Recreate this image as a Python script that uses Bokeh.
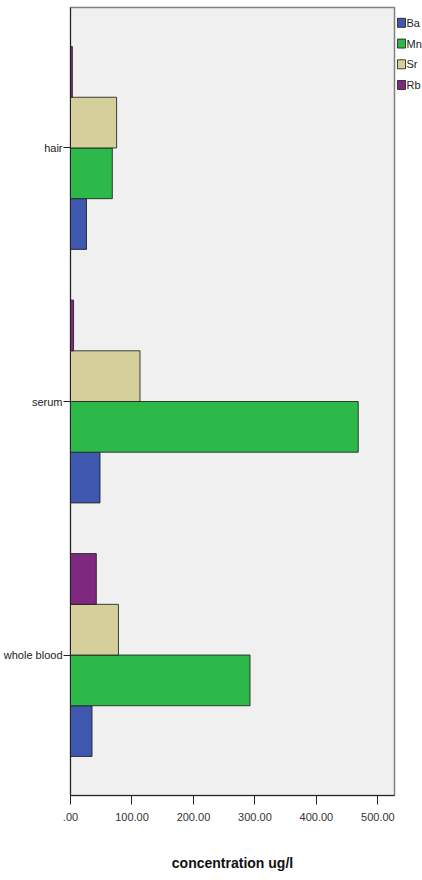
from bokeh.plotting import figure
from bokeh.models import ColumnDataSource, FactorRange, FixedTicker, Range1d
from bokeh.transform import dodge
from bokeh.layouts import row
from bokeh.core.properties import value
from bokeh.embed import file_html
from bokeh.resources import INLINE

# ---- data ----
categories = ["whole blood", "serum", "hair"]   # bottom -> top
elements = ["Ba", "Mn", "Sr", "Rb"]
ba = [35, 48, 26]
mn = [292, 468, 68]
sr = [78, 113, 75]
rb = [42, 5, 3]
x_ticks = [0, 100, 200, 300, 400, 500]
x_tick_labels = [".00", "100.00", "200.00", "300.00", "400.00", "500.00"]

colors = {"Ba": "#3e58b0", "Mn": "#2db84a", "Sr": "#d5cf9b", "Rb": "#7e2880"}
offsets = {"Ba": -0.3, "Mn": -0.1, "Sr": 0.1, "Rb": 0.3}

source = ColumnDataSource(dict(cat=categories, Ba=ba, Mn=mn, Sr=sr, Rb=rb))

FONT = "Liberation Sans"
H = 874
PW = 396   # main figure width
LW = 26    # legend strip width (PW + LW = 422)

p = figure(width=PW, height=H,
           y_range=FactorRange(factors=categories, range_padding=0.054,
                               range_padding_units="absolute"),
           x_range=Range1d(0, 527),
           output_backend="svg", toolbar_location=None,
           min_border_left=70, min_border_right=2,
           min_border_top=7, min_border_bottom=79)

p.background_fill_color = "#f0f0f0"
p.border_fill_color = "white"
p.outline_line_color = "#808080"
p.outline_line_width = 1.5
p.xgrid.visible = False
p.ygrid.visible = False

for el in elements:
    p.hbar(y=dodge("cat", offsets[el], range=p.y_range),
           left=0, right=el, height=0.2, source=source,
           fill_color=colors[el], line_color="#202020",
           line_width=1, line_alpha=0.85)

xa = p.xaxis[0]
xa.ticker = FixedTicker(ticks=x_ticks)
xa.major_label_overrides = {t: l for t, l in zip(x_ticks, x_tick_labels)}
xa.minor_tick_line_color = None
xa.major_tick_out = 9
xa.major_tick_in = 0
xa.major_tick_line_color = "#222222"
xa.axis_line_color = "#222222"
xa.major_label_standoff = 8
xa.major_label_text_font = FONT
xa.major_label_text_font_size = "11px"
xa.major_label_text_color = "#333333"
xa.axis_label = "concentration ug/l"
xa.axis_label_text_font = FONT
xa.axis_label_text_font_size = "14px"
xa.axis_label_text_font_style = "bold"
xa.axis_label_text_color = "#111111"
xa.axis_label_standoff = 31

ya = p.yaxis[0]
ya.major_tick_out = 7
ya.major_tick_in = 0
ya.minor_tick_line_color = None
ya.major_tick_line_color = "#222222"
ya.axis_line_color = "#222222"
ya.major_label_standoff = 1
ya.major_label_text_font = FONT
ya.major_label_text_font_size = "11px"
ya.major_label_text_color = "#222222"

# ---- legend strip (separate narrow figure) ----
leg_y = [17 + 23 * i for i in range(len(elements))]
leg_src = ColumnDataSource(dict(label=elements, y=leg_y,
                                color=[colors[e] for e in elements]))
q = figure(width=LW, height=H, x_range=Range1d(0, LW), y_range=Range1d(H, 0),
           output_backend="svg", toolbar_location=None,
           x_axis_location=None, y_axis_location=None,
           min_border_left=0, min_border_right=0, min_border_top=0,
           min_border_bottom=0)
q.outline_line_color = None
q.background_fill_color = "white"
q.border_fill_color = "white"
q.xgrid.visible = False
q.ygrid.visible = False
q.rect(x=5, y="y", width=8, height=10, source=leg_src,
       fill_color="color", line_color="#202020", line_alpha=0.85)
q.text(x=10, y="y", text="label", source=leg_src,
       text_font=value(FONT), text_font_size="11px", text_color="#222222",
       text_baseline="middle", text_align="left")

layout = row(p, q)
open("out.html", "w").write(file_html(layout, INLINE))
